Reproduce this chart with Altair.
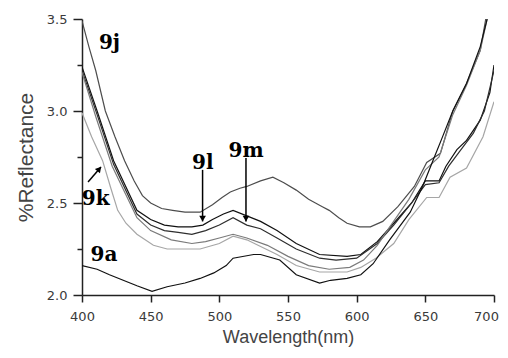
import altair as alt
import pandas as pd

# ---- data ----
x_9j = [400,405,410,417,424,431,438,444,450,458,466,475,486,495,502,508,515,520,530,539,547,556,565,575,580,587,593,602,610,619,630,642,651,661,670,680,690,694]
y_9j = [3.49,3.35,3.22,3.0,2.86,2.73,2.62,2.54,2.5,2.47,2.46,2.45,2.45,2.49,2.53,2.56,2.58,2.59,2.62,2.64,2.61,2.57,2.52,2.48,2.46,2.42,2.39,2.37,2.37,2.40,2.48,2.59,2.72,2.77,3.0,3.15,3.33,3.5]

x_9l = [400,411,423,440,450,460,470,480,488,495,503,510,520,530,542,556,573,593,603,615,627,640,650,660,665,673,680,690,697,700]
y_9l = [3.24,3.0,2.73,2.46,2.41,2.38,2.37,2.37,2.38,2.41,2.44,2.46,2.43,2.40,2.35,2.28,2.22,2.21,2.22,2.29,2.39,2.5,2.62,2.62,2.70,2.79,2.84,2.95,3.1,3.25]

x_9m = [400,411,423,440,450,460,470,480,490,500,510,520,530,542,556,573,585,600,615,627,640,650,660,667,675,685,693,700]
y_9m = [3.22,2.98,2.71,2.44,2.38,2.35,2.34,2.33,2.35,2.38,2.42,2.38,2.36,2.31,2.25,2.20,2.19,2.2,2.28,2.38,2.5,2.6,2.61,2.7,2.78,2.88,3.0,3.22]

x_9x = [400,410,422,440,450,465,480,490,500,510,520,535,550,565,580,595,605,615,625,638,650,660,670,680,690,695]
y_9x = [3.21,2.97,2.70,2.42,2.35,2.30,2.28,2.29,2.31,2.33,2.31,2.27,2.21,2.16,2.14,2.15,2.19,2.27,2.38,2.52,2.68,2.75,2.98,3.14,3.33,3.5]

x_9k = [400,407,415,421,426,432,440,452,462,472,486,500,510,520,542,556,573,593,603,614,627,638,651,660,668,680,692,700]
y_9k = [2.99,2.86,2.73,2.58,2.46,2.39,2.33,2.27,2.25,2.25,2.25,2.28,2.32,2.30,2.22,2.16,2.125,2.125,2.15,2.2,2.28,2.41,2.53,2.53,2.64,2.69,2.86,3.05]

x_9a = [400,411,420,430,440,451,462,475,486,496,505,510,525,530,544,556,573,581,593,603,612,624,639,648,655,662,670,680,690,695]
y_9a = [2.16,2.14,2.11,2.08,2.05,2.02,2.045,2.065,2.09,2.12,2.16,2.2,2.22,2.22,2.19,2.11,2.065,2.08,2.09,2.11,2.17,2.3,2.45,2.59,2.72,2.85,3.0,3.15,3.35,3.5]

series_names = ["9j", "9l", "9m", "9x", "9k", "9a"]
series_x = [x_9j, x_9l, x_9m, x_9x, x_9k, x_9a]
series_y = [y_9j, y_9l, y_9m, y_9x, y_9k, y_9a]
series_colors = ["#4d4d4d", "#111111", "#2e2e2e", "#7a7a7a", "#a6a6a6", "#111111"]

# major and minor tick values (minor ticks are unlabelled and shorter)
x_ticks = [400, 425, 450, 475, 500, 525, 550, 575, 600, 625, 650, 675, 700]
y_ticks = [2.0, 2.25, 2.5, 2.75, 3.0, 3.25, 3.5]

label_text = ["9j", "9l", "9m", "9k", "9a"]
label_x = [420, 488, 519.5, 410, 416]
label_y = [3.37, 2.72, 2.78, 2.52, 2.22]

arrow_x1 = [487.8, 519.4, 404.4]
arrow_y1 = [2.68, 2.745, 2.614]
arrow_x2 = [487.8, 519.4, 413.8]
arrow_y2 = [2.40, 2.40, 2.696]
head_x = [487.8, 519.4, 412.6]
head_y = [2.415, 2.415, 2.685]
head_angle = [180, 180, 41]

# ---- tables ----
rows = []
for name, xs, ys in zip(series_names, series_x, series_y):
    for a, b in zip(xs, ys):
        rows.append({"series": name, "wl": a, "refl": b})
df = pd.DataFrame(rows)
labels_df = pd.DataFrame({"text": label_text, "wl": label_x, "refl": label_y})
arrows_df = pd.DataFrame({"wl": arrow_x1, "refl": arrow_y1, "wl2": arrow_x2, "refl2": arrow_y2})
heads_df = pd.DataFrame({"wl": head_x, "refl": head_y, "ang": head_angle})

W, H = 412, 276
xscale = alt.Scale(domain=[400, 700], nice=False, zero=False)
yscale = alt.Scale(domain=[2.0, 3.5], nice=False, zero=False)

axis_common = dict(domainColor="#222", domainWidth=1.5, tickColor="#222", tickWidth=1.5,
                   grid=False, labelFont="DejaVu Sans", labelFontSize=13, labelColor="#3a3a3a")

x_minor_test = "datum.value % 50 != 0"
y_minor_test = "abs(datum.value * 2 - round(datum.value * 2)) > 0.01"

x_axis = alt.Axis(values=x_ticks, format="d",
                  tickSize={"condition": {"test": x_minor_test, "value": 4}, "value": 7},
                  labelExpr="datum.value % 50 == 0 ? datum.label : ''",
                  labelPadding=8, labelOverlap=False,
                  title="Wavelength(nm)", titleFont="Liberation Sans", titleFontSize=18,
                  titleFontWeight="normal", titleColor="#444", titlePadding=5,
                  orient="bottom", labelFlush=False,
                  labelOffset={"condition": {"test": "datum.value == 700", "value": -8}, "value": 0},
                  **axis_common)
y_axis = alt.Axis(values=y_ticks, format=".1f",
                  tickSize={"condition": {"test": y_minor_test, "value": 5}, "value": 9},
                  labelExpr="abs(datum.value * 2 - round(datum.value * 2)) > 0.01 ? '' : datum.label",
                  labelPadding=6, labelOverlap=False,
                  title="%Reflectance", titleFont="Liberation Sans", titleFontSize=21,
                  titleFontWeight="normal", titleColor="#444", titlePadding=10,
                  orient="left", labelFlush=False, **axis_common)

lines = alt.Chart(df).mark_line(strokeWidth=1.2, clip=True).encode(
    x=alt.X("wl:Q", scale=xscale, axis=x_axis),
    y=alt.Y("refl:Q", scale=yscale, axis=y_axis),
    color=alt.Color("series:N", scale=alt.Scale(domain=series_names, range=series_colors), legend=None),
)

texts = alt.Chart(labels_df).mark_text(font="DejaVu Serif", fontWeight="bold", fontSize=20,
                                       color="#000", baseline="middle", align="center").encode(
    x=alt.X("wl:Q", scale=xscale),
    y=alt.Y("refl:Q", scale=yscale),
    text="text:N",
)

arrows = alt.Chart(arrows_df).mark_rule(color="#000", strokeWidth=1.5).encode(
    x=alt.X("wl:Q", scale=xscale), y=alt.Y("refl:Q", scale=yscale),
    x2="wl2:Q", y2="refl2:Q",
)

heads = alt.Chart(heads_df).mark_point(shape="triangle-up", filled=True, color="#000",
                                       size=45, opacity=1).encode(
    x=alt.X("wl:Q", scale=xscale), y=alt.Y("refl:Q", scale=yscale),
    angle=alt.Angle("ang:Q", scale=None),
)

chart = alt.layer(lines, texts, arrows, heads).properties(
    width=W, height=H,
    autosize=alt.AutoSizeParams(type="none"),
    padding={"left": 74, "top": 11, "right": 6, "bottom": 55},
    background="white",
).configure_view(stroke=None)

chart.save("out.html", embed_options={"renderer": "svg", "actions": False})
